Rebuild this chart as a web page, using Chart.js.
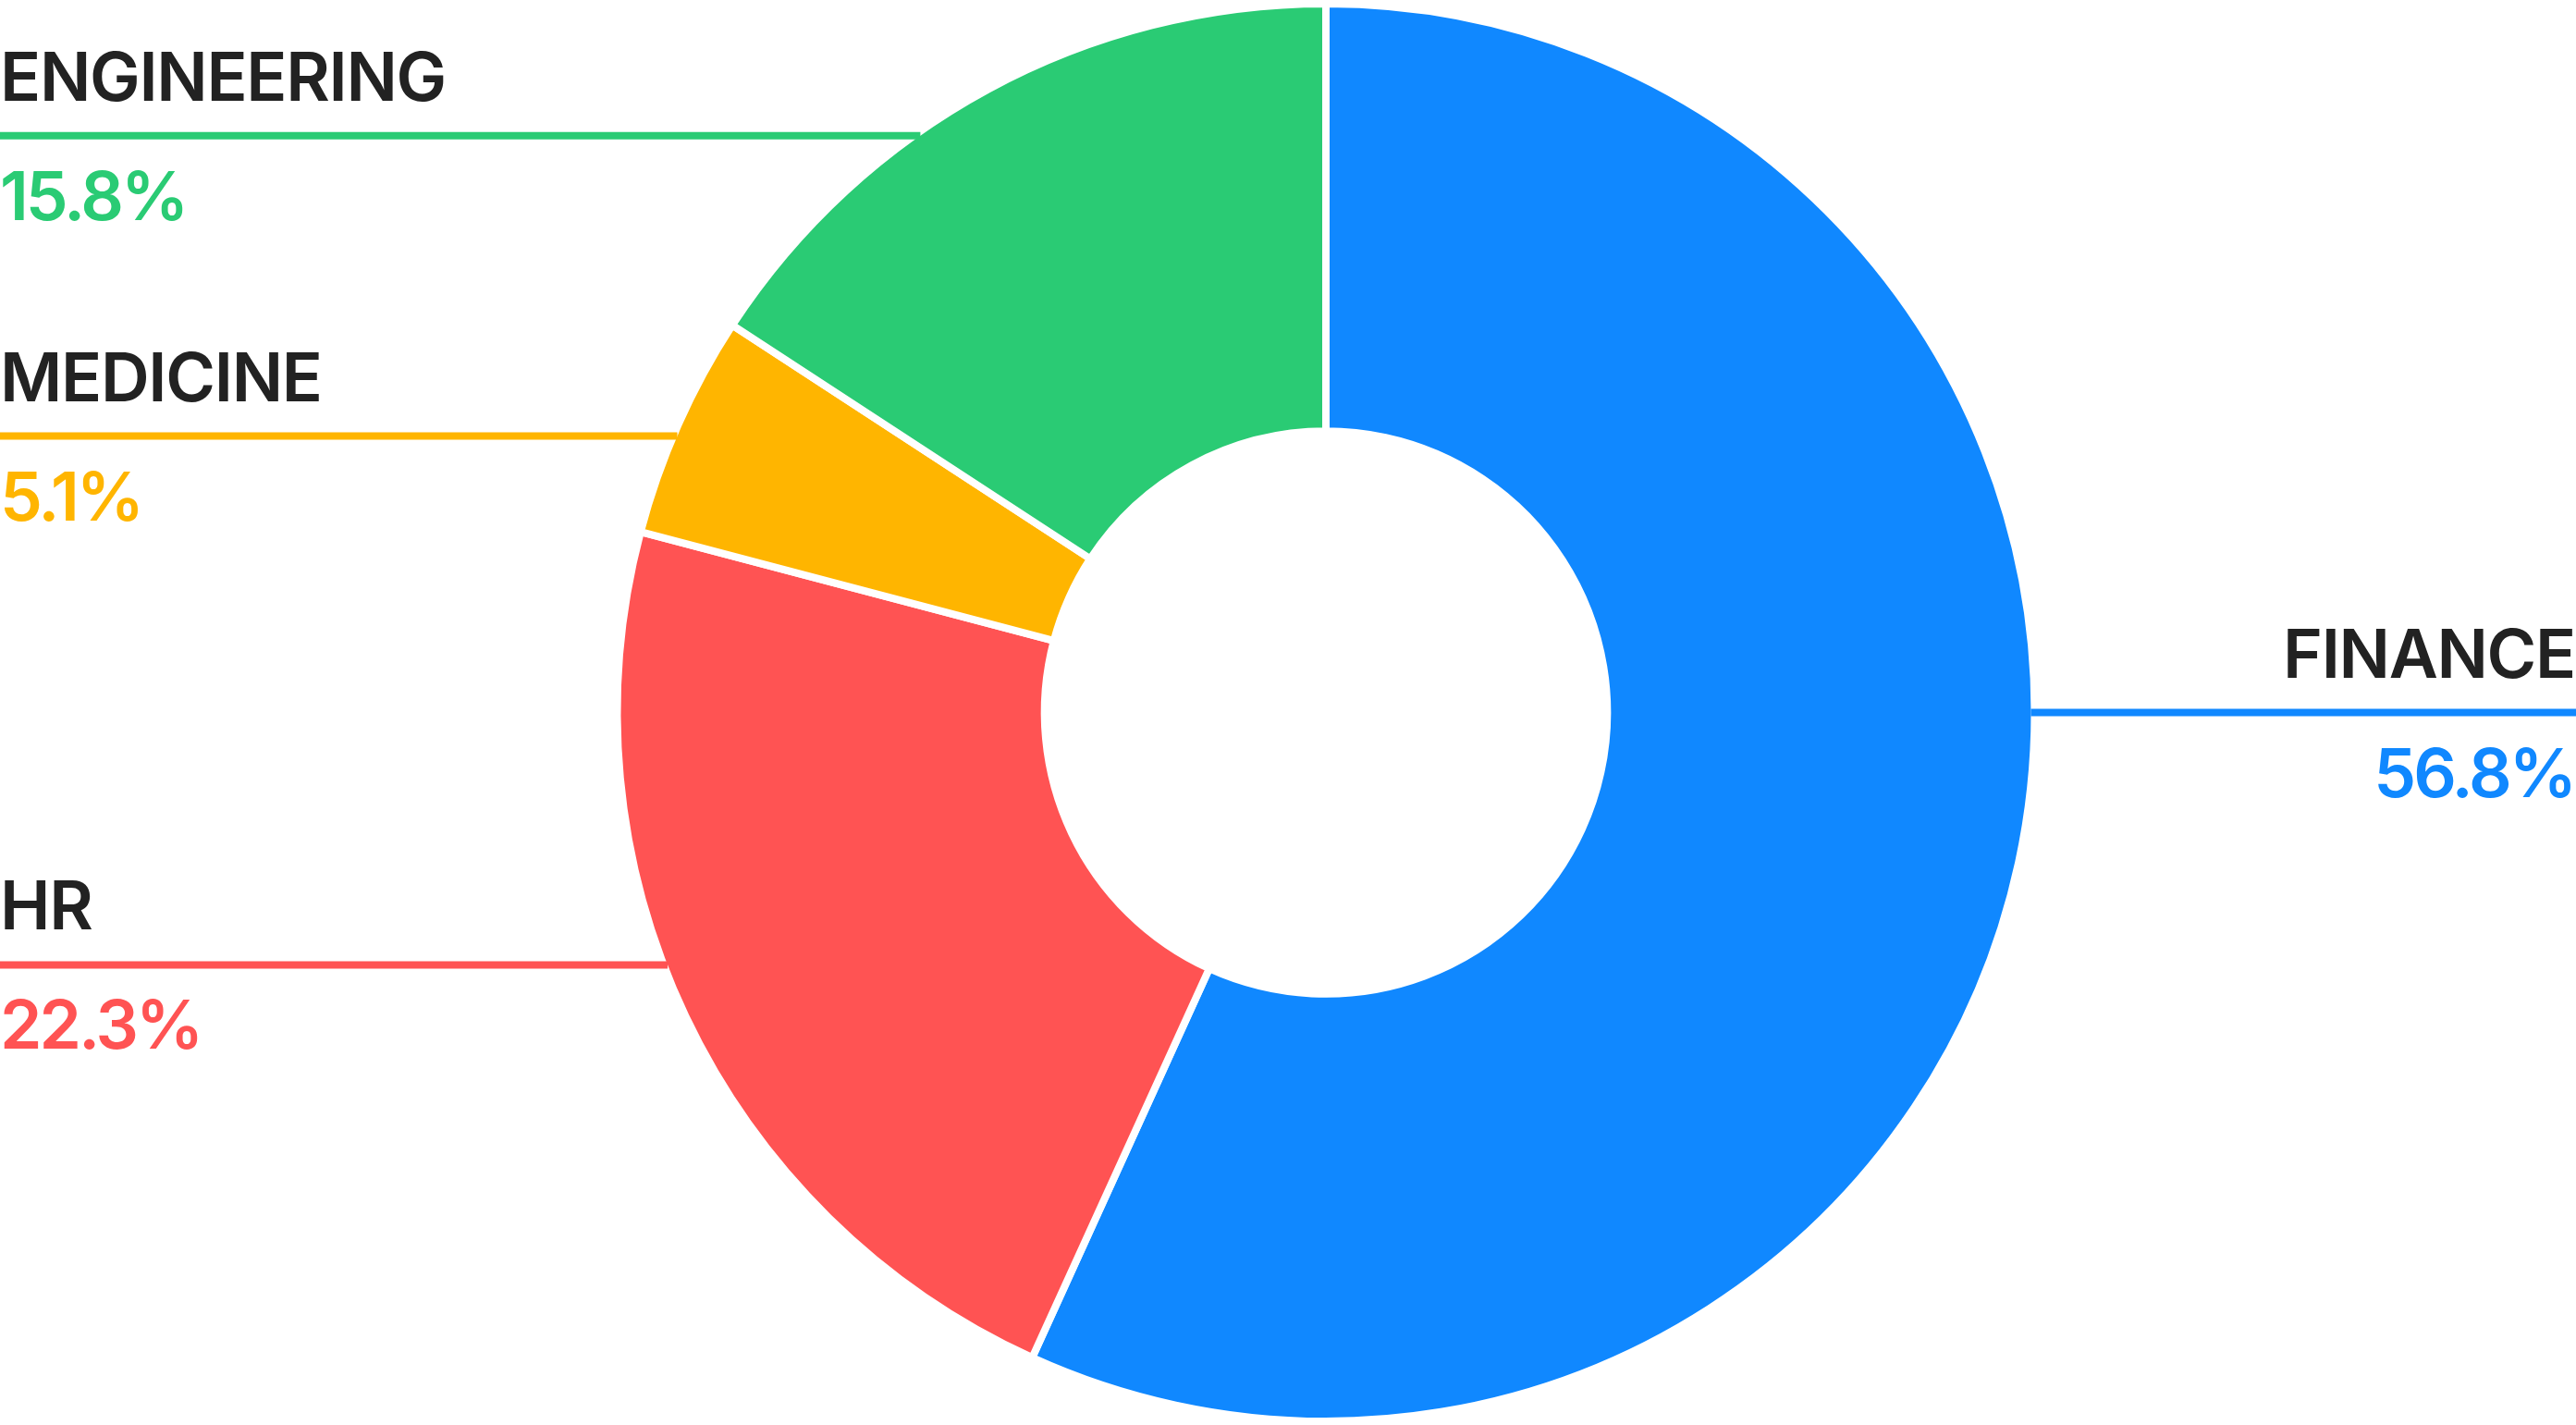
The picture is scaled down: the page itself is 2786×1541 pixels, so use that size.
<!DOCTYPE html>
<html>
<head>
<meta charset="utf-8">
<script src="https://cdn.jsdelivr.net/npm/chart.js@4.4.1/dist/chart.umd.min.js"></script>
<style>
  html, body { margin: 0; padding: 0; background: #fff; }
  #wrap { width: 2786px; height: 1541px; }
</style>
</head>
<body>
<div id="wrap"><canvas id="deptChart" width="2786" height="1541"></canvas></div>
<script>
const categories = ["FINANCE", "HR", "MEDICINE", "ENGINEERING"];
const shares = [56.8, 22.3, 5.1, 15.8];
const sliceColors = ["#1088FF", "#FF5353", "#FFB500", "#2ACB74"];
// height of each label's leader line, as a fraction of the outer radius (+ is down)
const labelLevels = [0, 0.358, -0.392, -0.818];

const labelFont = "600 73px Inter";

const sideLabels = {
  id: "sideLabels",
  afterDatasetsDraw(chart) {
    const ctx = chart.ctx;
    const arcs = chart.getDatasetMeta(0).data;
    ctx.save();
    arcs.forEach((arc, i) => {
      const r = arc.outerRadius - 4;
      const dy = labelLevels[i] * r;
      const lineY = arc.y + dy;
      const mid = (arc.startAngle + arc.endAngle) / 2;
      const right = Math.cos(mid) > 0;
      const dx = Math.sqrt(Math.max(r * r - dy * dy, 0));

      ctx.strokeStyle = sliceColors[i];
      ctx.lineWidth = 8;
      ctx.beginPath();
      if (right) {
        ctx.moveTo(arc.x + dx, lineY);
        ctx.lineTo(chart.width, lineY);
      } else {
        ctx.moveTo(0, lineY);
        ctx.lineTo(arc.x - dx, lineY);
      }
      ctx.stroke();

      ctx.font = labelFont;
      ctx.textAlign = right ? "right" : "left";
      ctx.textBaseline = "alphabetic";
      ctx.fillStyle = "#222222";
      ctx.letterSpacing = "-1.3px";
      ctx.fillText(categories[i], right ? chart.width - 1 : 0, lineY - 38);
      ctx.fillStyle = sliceColors[i];
      ctx.letterSpacing = "-3px";
      ctx.fillText(shares[i].toFixed(1) + "%", right ? chart.width - 2 : 0, lineY + 91);
    });
    ctx.restore();
  }
};

function draw() {
  new Chart(document.getElementById("deptChart"), {
    type: "doughnut",
    data: {
      labels: categories,
      datasets: [{
        data: shares,
        backgroundColor: sliceColors,
        borderColor: "#ffffff",
        borderWidth: 8
      }]
    },
    options: {
      responsive: false,
      animation: false,
      cutout: "39.7%",
      layout: { padding: { left: 82 } },
      plugins: {
        legend: { display: false },
        tooltip: { enabled: false }
      }
    },
    plugins: [sideLabels]
  });
}

document.fonts.load(labelFont).then(draw, draw);
</script>
</body>
</html>
